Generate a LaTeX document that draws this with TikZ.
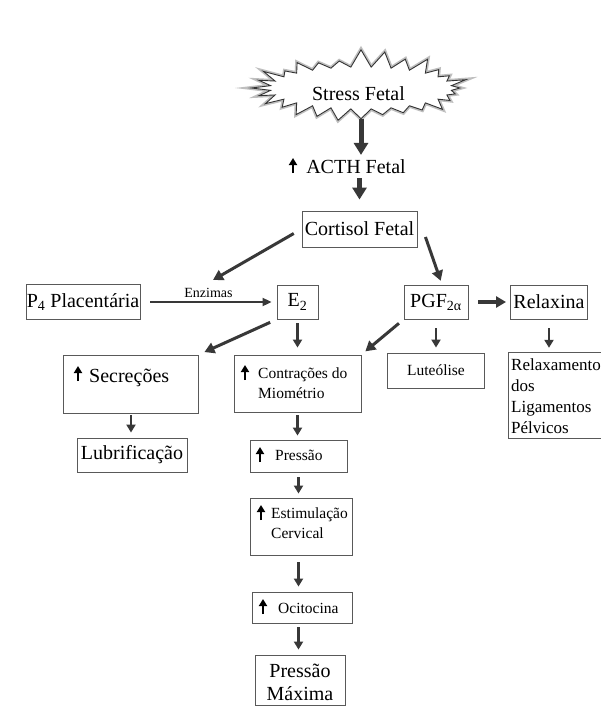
\documentclass[tikz,border=0pt]{standalone}
\usepackage{fontspec}
\setmainfont{Liberation Serif}
\usetikzlibrary{shapes.symbols,arrows.meta}
\definecolor{arrc}{HTML}{383838}
\begin{document}
\begin{tikzpicture}[x=1pt,y=-1pt,
  box/.style={draw=black!65, line width=0.9pt, rectangle, inner sep=0pt},
  big/.style={font=\fontsize{20}{22}\selectfont},
  med/.style={font=\fontsize{15.5}{19}\selectfont},
  rel/.style={font=\fontsize{17}{20}\selectfont},
  txt/.style={inner sep=0pt, anchor=base west},
  ctxt/.style={inner sep=0pt, anchor=base},
  bigarr/.style={draw=arrc, line width=5pt, -{Triangle[length=12pt,width=14pt]}},
  arr/.style={draw=arrc, line width=3pt, -{Triangle[length=10pt,width=11pt]}},
  smallarr/.style={draw=arrc, line width=2.5pt, -{Triangle[length=8pt,width=9pt]}},
  uparr/.style={draw=black, line width=1.8pt, -{Triangle[length=7pt,width=8pt]}},
]
\useasboundingbox (0,0) rectangle (601,717);
\fill[white] (0,0) rectangle (601,717);

% starburst
\node[starburst, starburst points=28, starburst point height=19pt, random starburst=7,
      minimum width=220pt, minimum height=80pt, draw=black!80, line width=0.9pt, fill=white,
      preaction={draw=black!25, line width=4pt}, inner sep=0pt] (star) at (361,88) {};
\node[big, ctxt] (starT) at (358.5,100) {Stress Fetal};

% ACTH
\node[big, ctxt, inner sep=1pt] (acth) at (356,173) {ACTH Fetal};
\draw[uparr] (293,173) -- (293,158);

% Cortisol
\node[box, big, minimum width=115pt, minimum height=36pt] (cort) at (359.5,229) {Cortisol Fetal};

% row 2
\node[box, big, minimum width=114pt, minimum height=35pt] (p4) at (83,302) {P\textsubscript{4} Placentária};
\node[box, big, minimum width=41pt, minimum height=34pt] (e2) at (297.5,302) {E\textsubscript{2}};
\node[box, big, minimum width=64pt, minimum height=34pt] (pgf) at (436,302) {PGF\textsubscript{2α}};
\node[box, big, minimum width=77pt, minimum height=34pt] (relax) at (549,302) {Relaxina};
\coordinate (enz) at (213,280);

% row 3
\node[box, minimum width=135pt, minimum height=58pt] (sec) at (131,384) {};
\node[big, txt] (secT) at (89,382) {Secreções};
\draw[uparr] (78,381) -- (78,366);

\node[box, minimum width=127pt, minimum height=57pt] (contr) at (297.5,383.5) {};
\node[med, txt] (contrT1) at (258,378) {Contrações do};
\node[med, txt] (contrT2) at (258,398) {Miométrio};
\draw[uparr] (245,380) -- (245,365);

\node[box, med, minimum width=97pt, minimum height=35pt] (lut) at (436,370.5) {Luteólise};

\node[minimum width=92pt, minimum height=85pt, inner sep=0pt] (relx) at (555,395.5) {};
\draw[black!65, line width=0.9pt] (relx.north east) -- (relx.north west) -- (relx.south west) -- (relx.south east);
\node[rel, txt] (relxT1) at (511,370) {Relaxamento};
\node[rel, txt] (relxT2) at (511,391) {dos};
\node[rel, txt] (relxT3) at (511,412) {Ligamentos};
\node[rel, txt] (relxT4) at (511,433) {Pélvicos};

% lower
\node[box, big, minimum width=110pt, minimum height=34pt] (lub) at (132,455) {Lubrificação};

\node[box, minimum width=97pt, minimum height=32pt] (press) at (298.5,456) {};
\node[med, txt] (pressT) at (275,460) {Pressão};
\draw[uparr] (260,462) -- (260,447);

\node[box, minimum width=102pt, minimum height=57pt] (estim) at (301,526.5) {};
\node[med, txt] (estimT1) at (271,518) {Estimulação};
\node[med, txt] (estimT2) at (271,538) {Cervical};
\draw[uparr] (261,520) -- (261,505);

\node[box, minimum width=100pt, minimum height=31pt] (ocit) at (302,607.5) {};
\node[med, txt] (ocitT) at (278,613) {Ocitocina};
\draw[uparr] (263,614) -- (263,599);

\node[box, minimum width=90pt, minimum height=50pt] (pmax) at (300,680) {};
\node[big, ctxt] (pmaxT1) at (300,677) {Pressão};
\node[big, ctxt] (pmaxT2) at (300,700) {Máxima};

% connectors
\draw[bigarr, shorten >=3pt] (star.south) -- (star.south |- acth.north);
\draw[bigarr, shorten <=4pt, shorten >=11pt] (acth.south -| cort.north) -- (cort.north);
\draw[arr, shorten <=9pt] (cort.west) -- (enz);
\draw[arr, shorten >=4pt] ([xshift=8pt,yshift=-8pt]cort.east) -- ([xshift=6pt]pgf.north);
\draw[draw=arrc, line width=2pt, -{Triangle[length=9pt,width=8pt]}, shorten <=10pt, shorten >=5pt]
   (p4.east) -- node[midway, above=3pt, font=\fontsize{14}{16}\selectfont, inner sep=0pt] (enzT) {Enzimas} (e2.west);
\draw[arr, line width=3.5pt, shorten <=10pt, shorten >=4pt] (pgf.east) -- (relax.west);
\draw[arr, shorten <=7pt, shorten >=6pt] (e2.south west) -- (sec.north east);
\draw[smallarr, shorten <=4pt, shorten >=7pt] (e2.south) -- (e2.south |- contr.north);
\draw[arr, shorten <=6pt, shorten >=5pt] (pgf.south west) -- (contr.north east);
\draw[smallarr, shorten <=9pt, shorten >=5pt] (pgf.south) -- (pgf.south |- lut.north);
\draw[smallarr, shorten <=9pt, shorten >=5pt] (relax.south) -- (relax.south |- relx.north);
\draw[smallarr, line width=2pt, shorten <=2pt, shorten >=5pt] (sec.south) -- (sec.south |- lub.north);
\draw[smallarr, shorten <=3pt, shorten >=4pt] (contr.south) -- (contr.south |- press.north);
\draw[smallarr, shorten <=5pt, shorten >=4pt] (press.south) -- (press.south |- estim.north);
\draw[smallarr, shorten <=7pt, shorten >=5pt] (estim.south -| press.south) -- (press.south |- ocit.north);
\draw[smallarr, shorten <=4pt, shorten >=5pt] (ocit.south -| press.south) -- (press.south |- pmax.north);
\end{tikzpicture}
\end{document}
